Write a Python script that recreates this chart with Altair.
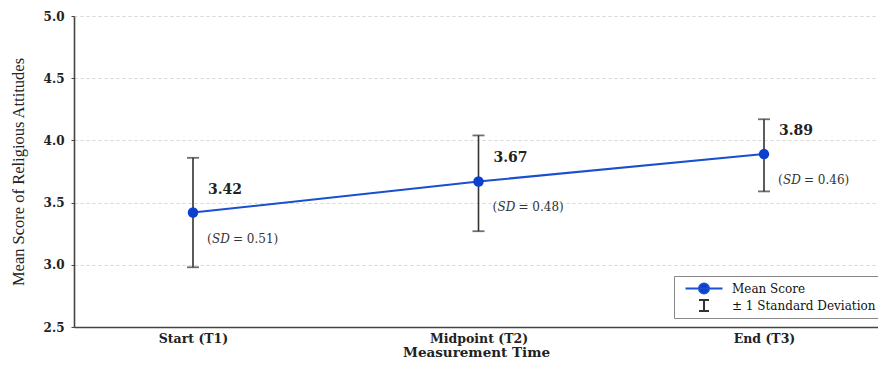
import altair as alt
import pandas as pd

times = ["Start (T1)", "Midpoint (T2)", "End (T3)"]
means = [3.42, 3.67, 3.89]
sds = [0.51, 0.48, 0.46]
err_low = [2.98, 3.27, 3.59]
err_high = [3.86, 4.04, 4.17]
y_ticks = [2.5, 3.0, 3.5, 4.0, 4.5, 5.0]
legend_items = ["Mean Score", "± 1 Standard Deviation"]

df = pd.DataFrame({
    "idx": list(range(len(times))),
    "time": times,
    "mean": means,
    "sd": sds,
    "low": err_low,
    "high": err_high,
})
df["mean_label"] = [f"{m:.2f}" for m in means]
df["sd_rest"] = [f"= {s:.2f})" for s in sds]
df["open"] = "("
df["sdword"] = "SD"

leg_df = pd.DataFrame({"series": legend_items, "idx": [0, 1], "mean": means[:2]})

SERIF = "DejaVu Serif"
BLUE = "#1a4fd0"
DARK = "#333333"

label_expr = "[" + ",".join("'" + t + "'" for t in times) + "][datum.value]"

x_enc = alt.X(
    "idx:Q",
    scale=alt.Scale(domain=[-0.4168, 2.3993], nice=False, zero=False),
    axis=alt.Axis(
        title="Measurement Time",
        values=list(range(len(times))),
        labelExpr=label_expr,
        labelAngle=0,
        labelFont=SERIF,
        labelFontWeight="bold",
        labelFontSize=12.5,
        labelColor="#222",
        labelPadding=5,
        labelFlush=False,
        labelOverlap=False,
        ticks=False,
        titleFont=SERIF,
        titleFontWeight="bold",
        titleFontSize=13.5,
        titleColor="#222",
        titlePadding=1,
        grid=False,
    ),
)

y_scale = alt.Scale(domain=[2.5, 5.0], nice=False, zero=False)
y_axis = alt.Axis(
    title="Mean Score of Religious Attitudes",
    values=y_ticks,
    format=".1f",
    labelFont=SERIF,
    labelFontWeight="bold",
    labelFontSize=12,
    labelColor="#222",
    tickSize=3,
    labelPadding=7,
    titleFont="Liberation Serif",
    titleFontWeight="normal",
    titleFontSize=16.5,
    titleColor="#222",
    titlePadding=17,
    grid=True,
    gridDash=[3, 3],
    gridColor="#cccccc",
    gridWidth=0.8,
)

base = alt.Chart(df)
X = alt.X("idx:Q")

rule = base.mark_rule(color=DARK, strokeWidth=1.6).encode(
    x=x_enc,
    y=alt.Y("low:Q", scale=y_scale, axis=y_axis),
    y2="high:Q",
)
cap_lo = base.mark_tick(orient="horizontal", size=12, thickness=1.8, color=DARK).encode(
    x=X, y=alt.Y("low:Q")
)
cap_hi = base.mark_tick(orient="horizontal", size=12, thickness=1.8, color=DARK).encode(
    x=X, y=alt.Y("high:Q")
)
line = base.mark_line(color=BLUE, strokeWidth=2).encode(x=X, y=alt.Y("mean:Q"))
pts = base.mark_point(filled=True, size=110, color="#0b3fd0", opacity=1).encode(
    x=X, y=alt.Y("mean:Q")
)
val_text = base.mark_text(
    align="left", baseline="middle", dx=15, dy=-23, font=SERIF, fontSize=14,
    fontWeight="bold", color="#222"
).encode(x=X, y=alt.Y("mean:Q"), text="mean_label:N")

sd_kw = dict(align="left", baseline="middle", dy=26, font=SERIF, fontSize=12, color=DARK)
sd_open = base.mark_text(dx=14, **sd_kw).encode(x=X, y=alt.Y("mean:Q"), text="open:N")
sd_word = base.mark_text(dx=19, fontStyle="italic", **sd_kw).encode(
    x=X, y=alt.Y("mean:Q"), text="sdword:N")
sd_rest = base.mark_text(dx=40, **sd_kw).encode(x=X, y=alt.Y("mean:Q"), text="sd_rest:N")

line_path = ("M -3.7 0 L 3.7 0 M -1.0 0 A 1.0 1.0 0 1 0 1.0 0 "
             "A 1.0 1.0 0 1 0 -1.0 0 Z")
ibeam_path = "M -1.0 -1.1 L 1.0 -1.1 M 0 -1.1 L 0 1.1 M -1.0 1.1 L 1.0 1.1"

leg = alt.Legend(
    title=None,
    orient="none",
    legendX=600,
    legendY=260,
    labelFont=SERIF,
    labelFontSize=12,
    labelColor="#111",
    symbolSize=100,
    symbolStrokeWidth=2,
    symbolOffset=20,
    labelOffset=22,
    padding=4,
    rowPadding=0,
    clipHeight=17,
    strokeColor="#888888",
    fillColor="white",
    cornerRadius=0,
)
legend_layer = alt.Chart(leg_df).transform_filter("false").mark_point(
    filled=True, strokeWidth=2, opacity=1
).encode(
    x=X,
    y=alt.Y("mean:Q"),
    fill=alt.Fill("series:N", scale=alt.Scale(domain=legend_items, range=["#0b3fd0", DARK]), legend=leg),
    stroke=alt.Stroke("series:N", scale=alt.Scale(domain=legend_items, range=[BLUE, DARK]), legend=leg),
    shape=alt.Shape("series:N", scale=alt.Scale(domain=legend_items, range=[line_path, ibeam_path]), legend=leg),
)

chart = alt.layer(
    rule, cap_lo, cap_hi, line, pts, val_text, sd_open, sd_word, sd_rest, legend_layer
).properties(
    width=804,
    height=311,
    padding={"left": 66, "top": 8, "right": 0, "bottom": 34},
    autosize=alt.AutoSizeParams(type="none"),
    background="white",
).configure_view(stroke=None).configure_axis(
    domainColor="#444444", domainWidth=1.6, tickColor="#444444"
)

chart.save("out.html", embed_options={"renderer": "svg", "actions": False})
